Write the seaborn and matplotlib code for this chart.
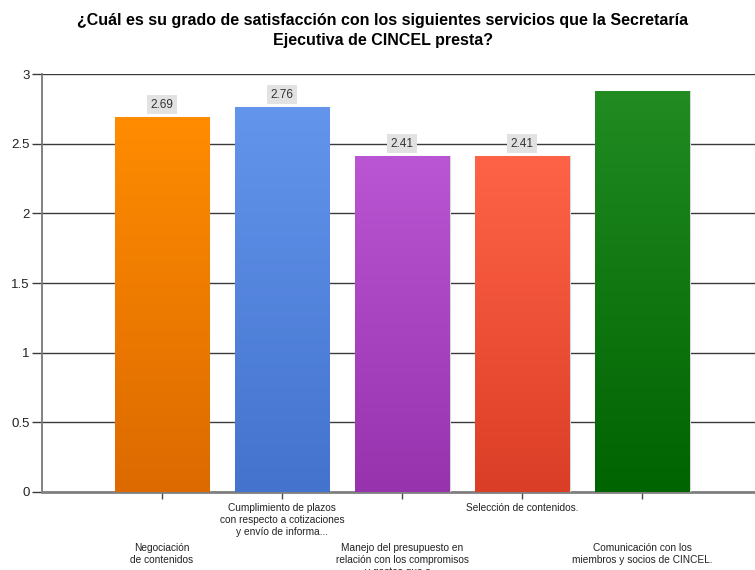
import matplotlib

matplotlib.use("Agg")
import matplotlib.pyplot as plt
import numpy as np
import pandas as pd
import seaborn as sns
from matplotlib.colors import LinearSegmentedColormap

# valeurs
categories = [
    "Negociación\nde contenidos",
    "Cumplimiento de plazos\ncon respecto a cotizaciones\ny envío de informa...",
    "Manejo del presupuesto en\nrelación con los compromisos\ny gastos que s...",
    "Selección de contenidos.",
    "Comunicación con los\nmiembros y socios de CINCEL.",
]
scores = [2.69, 2.76, 2.41, 2.41, 2.88]
show_label = [True, True, True, True, False]
top_colors = ["#FF8C00", "#6495ED", "#BA55D3", "#FF6347", "#228B22"]
bottom_colors = ["#DC6A00", "#4373CC", "#9833AE", "#DB3E26", "#006400"]
y_ticks = [0, 0.5, 1, 1.5, 2, 2.5, 3]

TITLE = "¿Cuál es su grado de satisfacción con los siguientes servicios que la Secretaría\nEjecutiva de CINCEL presta?"

sns.set_style("white")
plt.rcParams["font.family"] = ["Liberation Sans", "DejaVu Sans"]

df = pd.DataFrame({"categorie": categories, "score": scores})

fig = plt.figure(figsize=(7.55, 5.70), dpi=100)
ax = fig.add_axes([42 / 755, 78 / 570, 1 - 42 / 755, 418 / 570])

sns.barplot(
    data=df,
    x="categorie",
    y="score",
    hue="categorie",
    palette=top_colors,
    legend=False,
    width=0.79,
    edgecolor="#d8d8d8",
    linewidth=0.8,
    ax=ax,
    zorder=3,
)

# degrade vertical sur chaque barre (clair en haut, fonce en bas)
grad = np.linspace(0, 1, 256).reshape(-1, 1)
for patch, c_top, c_bot in zip(ax.patches, top_colors, bottom_colors):
    x0, y0 = patch.get_x(), patch.get_y()
    w, h = patch.get_width(), patch.get_height()
    cmap = LinearSegmentedColormap.from_list("g", [c_bot, c_top])
    img = ax.imshow(
        grad,
        cmap=cmap,
        aspect="auto",
        origin="lower",
        extent=(x0, x0 + w, y0, y0 + h),
        zorder=3.5,
    )
    img.set_clip_path(patch)

ax.set_xlim(-1, 4.94)
ax.set_ylim(0, 3)
ax.set_yticks(y_ticks)
ax.set_yticklabels([f"{t:g}" for t in y_ticks], fontsize=9.5, color="#222222")
ax.yaxis.grid(True, color="#3a3a3a", linewidth=1, zorder=0)
ax.set_axisbelow(True)
ax.tick_params(axis="y", length=7, width=1, color="#3a3a3a", pad=2, left=True)
ax.tick_params(axis="x", length=5, width=1, color="#4a4a4a", bottom=True, labelsize=7.3)

for side in ("top", "right"):
    ax.spines[side].set_visible(False)
ax.spines["left"].set_color("#777777")
ax.spines["left"].set_linewidth(1.3)
ax.spines["bottom"].set_color("#808080")
ax.spines["bottom"].set_linewidth(2)

ax.set_xlabel("")
ax.set_ylabel("")

# etiquettes en quinconce
for i, tick in enumerate(ax.xaxis.get_major_ticks()):
    tick.set_pad(31.5 if i % 2 == 0 else 3)
    tick.label1.set_va("top")
    tick.label1.set_linespacing(1.25)
    tick.label1.set_color("#222222")

for patch, val, show in zip(ax.patches, scores, show_label):
    if not show:
        continue
    ax.annotate(
        f"{val:.2f}",
        (patch.get_x() + patch.get_width() / 2, val),
        xytext=(0, 9),
        textcoords="offset points",
        ha="center",
        va="center",
        fontsize=8.5,
        color="#333333",
        bbox=dict(boxstyle="square,pad=0.3", fc="#e2e2e2", ec="none"),
        zorder=6,
    )

fig.text(0.507, 0.978, TITLE, ha="center", va="top", fontsize=11.5,
         fontweight="bold", linespacing=1.45, color="black")

fig.savefig("out.png", dpi=100)
